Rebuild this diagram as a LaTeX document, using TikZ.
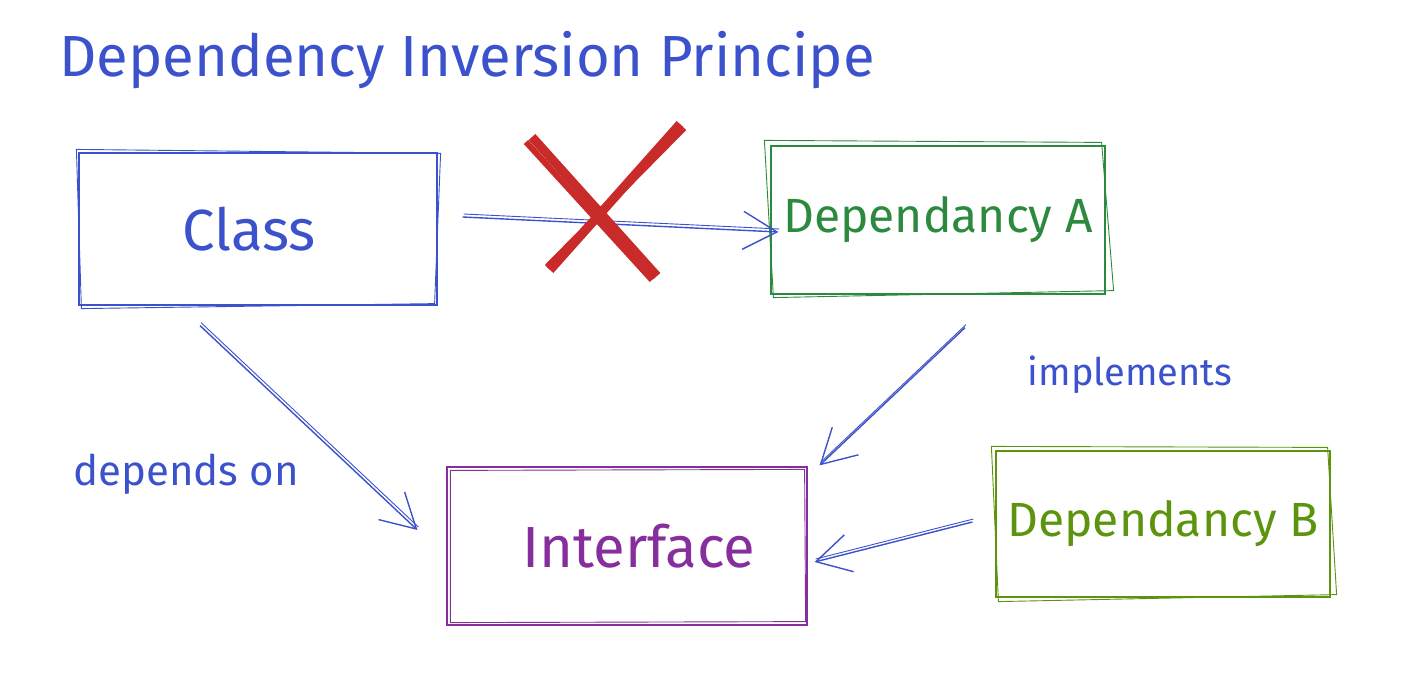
\documentclass[tikz,border=0pt]{standalone}
\usepackage{fontspec}
\setmainfont{Fira Sans}
\usetikzlibrary{arrows.meta,calc}
\definecolor{skblue}{HTML}{3B52CC}
\definecolor{skgreen}{HTML}{2B8A3E}
\definecolor{sklime}{HTML}{5C940D}
\definecolor{skviolet}{HTML}{862E9C}
\definecolor{skred}{HTML}{C92A2A}

\begin{document}
\begin{tikzpicture}[x=1pt,y=-1pt]
  \tikzstyle{sketch}=[draw,line width=1.2pt,rectangle,inner sep=0pt,
    font=\fontsize{48}{52}\selectfont]
  \tikzstyle{big}=[font=\fontsize{58}{62}\selectfont]
  \tikzstyle{rough}=[line width=0.9pt]
  \tikzstyle{note}=[text=skblue,font=\fontsize{38}{42}\selectfont]
  \tikzstyle{link}=[skblue,line width=1.4pt,
    -{Straight Barb[length=34pt,width=38pt,line width=1.4pt]},
    postaction={draw,-,line width=0.9pt,transform canvas={shift={(1pt,3pt)}}}]

  \useasboundingbox (0,0) rectangle (1408,680);

  \node[anchor=west,text=skblue,font=\fontsize{58}{62}\selectfont] (title)
    at (56,60) {Dependency Inversion Principe};

  % boxes
  \node[sketch,big,skblue,minimum width=358pt,minimum height=152pt] (cls)
    at (258,229) {Class\hspace*{18pt}};
  \node[sketch,skgreen,minimum width=334pt,minimum height=148pt] (depa)
    at (938,220) {Dependancy A};
  \node[sketch,big,skviolet,minimum width=360pt,minimum height=158pt,
    text depth=0pt] (iface) at (627,546) {\hspace*{24pt}Interface};
  \node[sketch,sklime,minimum width=334pt,minimum height=146pt] (depb)
    at (1163,524) {Dependancy B};

  % second, rougher outlines
  \draw[rough,skblue] ($(cls.north west)+(-2,-3)$) -- ($(cls.north east)+(3,1)$)
    -- ($(cls.south east)+(-3,-2)$) -- ($(cls.south west)+(3,3)$) -- cycle;
  \draw[rough,skgreen] ($(depa.north west)+(-6,-5)$) -- ($(depa.north east)+(-4,-3)$)
    -- ($(depa.south east)+(8,-4)$) -- ($(depa.south west)+(3,3)$) -- cycle;
  \draw[rough,skviolet] ($(iface.north west)+(4,4)$) -- ($(iface.north east)+(-3,3)$)
    -- ($(iface.south east)+(-2,-4)$) -- ($(iface.south west)+(4,-3)$) -- cycle;
  \draw[rough,sklime] ($(depb.north west)+(-4,-4)$) -- ($(depb.north east)+(-3,-3)$)
    -- ($(depb.south east)+(6,-3)$) -- ($(depb.south west)+(3,4)$) -- cycle;

  % connectors
  \draw[link] ($(cls.east)+(25,-12)$) -- ($(depa.west)+(8,12)$);
  \draw[link] ($(cls.south)+(-58,20)$) -- ($(iface.west)+(-29,-16)$);
  \draw[link] ($(depa.south)+(27,33)$) -- ($(iface.north east)+(12,-1)$);
  \draw[link] ($(depb.west)+(-23,-2)$) -- ($(iface.east)+(7,16)$);

  % crossed out
  \draw[skred,line width=9pt] (532,137) -- (657,276) (680,124) -- (550,270);
  \draw[skred,line width=6pt] (526,142) -- (652,280) (684,128) -- (547,267);

  \node[note,font=\fontsize{42}{46}\selectfont] (dep) at (186,474) {depends on};
  \node[note] (impl) at (1130,375) {implements};
\end{tikzpicture}
\end{document}
